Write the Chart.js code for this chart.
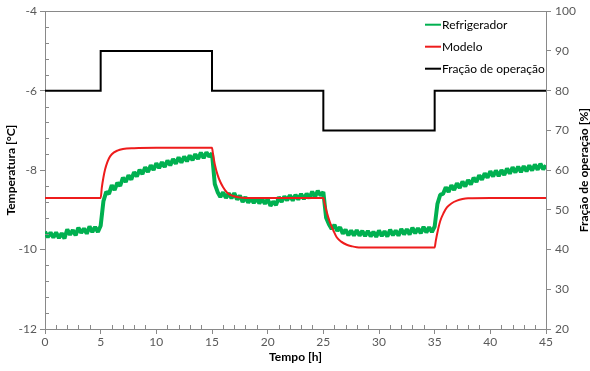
<!DOCTYPE html>
<html>
<head>
<meta charset="utf-8">
<title>Refrigerador x Modelo</title>
<script src="https://cdn.jsdelivr.net/npm/chart.js@4.4.1/dist/chart.umd.min.js"></script>
<style>
  body { margin: 0; background: #fff; }
</style>
</head>
<body>
<canvas id="grafico" width="590" height="371"></canvas>
<script>
// Temperatura medida no refrigerador (uma amostra a cada 15 min, de 0 a 45 h)
const passoRefrig = 0.25;
const tempRefrig = [
  -9.55, -9.69, -9.57, -9.70,  -9.57, -9.71, -9.59, -9.72,  -9.49, -9.63, -9.51, -9.64,
  -9.45, -9.58, -9.47, -9.60,  -9.42, -9.56, -9.43, -9.56,  -9.40, -8.78, -8.55, -8.60,
  -8.38, -8.50, -8.32, -8.40,  -8.19, -8.30, -8.13, -8.24,  -8.05, -8.16, -7.99, -8.10,
  -7.93, -8.05, -7.88, -8.00,  -7.83, -7.95, -7.80, -7.92,  -7.76, -7.88, -7.72, -7.84,
  -7.68, -7.81, -7.66, -7.78,  -7.63, -7.75, -7.60, -7.72,  -7.56, -7.70, -7.55, -7.66,
  -7.58, -8.35, -8.55, -8.68,  -8.56, -8.70, -8.58, -8.71,  -8.58, -8.74, -8.64, -8.80,
  -8.68, -8.82, -8.70, -8.83,  -8.70, -8.84, -8.72, -8.85,  -8.73, -8.90, -8.79, -8.88,
  -8.68, -8.80, -8.66, -8.76,  -8.63, -8.77, -8.62, -8.74,  -8.60, -8.73, -8.59, -8.71,
  -8.54, -8.68, -8.52, -8.64,  -8.55, -9.20, -9.36, -9.48,  -9.38, -9.53, -9.44, -9.60,
  -9.50, -9.64, -9.52, -9.65,  -9.51, -9.65, -9.53, -9.66,  -9.53, -9.67, -9.55, -9.68,
  -9.52, -9.66, -9.54, -9.67,  -9.50, -9.64, -9.52, -9.65,  -9.48, -9.62, -9.49, -9.62,
  -9.45, -9.59, -9.46, -9.59,  -9.43, -9.57, -9.44, -9.56,  -9.42, -8.85, -8.62, -8.60,
  -8.43, -8.55, -8.38, -8.50,  -8.33, -8.45, -8.29, -8.41,  -8.25, -8.36, -8.19, -8.30,
  -8.13, -8.24, -8.08, -8.19,  -8.03, -8.16, -8.01, -8.15,  -8.00, -8.12, -7.96, -8.09,
  -7.93, -8.06, -7.91, -8.05,  -7.90, -8.03, -7.88, -8.01,  -7.86, -7.99, -7.84, -7.98,
  -7.88
];

// Resposta do modelo
const tempoModelo = [0, 5, 5.1, 5.25, 5.4, 5.5, 5.75, 6, 6.5, 7, 8, 10, 15,
  15.1, 15.25, 15.5, 15.75, 16, 16.3, 16.6, 17, 17.5, 18, 20, 25,
  25.1, 25.3, 25.6, 25.9, 26.2, 26.6, 27.1, 27.6, 28, 29, 30, 35,
  35.1, 35.3, 35.5, 35.8, 36.1, 36.5, 37, 37.5, 38, 40, 45];
const tempModelo = [-8.7, -8.7, -8.45, -8.18, -7.98, -7.88, -7.7, -7.6, -7.51, -7.47, -7.45, -7.44, -7.44,
  -7.62, -7.85, -8.12, -8.3, -8.43, -8.55, -8.62, -8.66, -8.69, -8.7, -8.7, -8.7,
  -8.82, -9.05, -9.32, -9.52, -9.69, -9.8, -9.88, -9.92, -9.94, -9.95, -9.95, -9.95,
  -9.78, -9.5, -9.28, -9.08, -8.94, -8.84, -8.77, -8.73, -8.71, -8.7, -8.7];

// Fração de operação do compressor [%]
const tempoFracao = [0, 5, 15, 25, 35, 45];
const fracao = [80, 90, 80, 70, 80, 80];

const rotulos = ['Refrigerador', 'Modelo', 'Fração de operação'];

Chart.defaults.font.family = 'Lato';
Chart.defaults.font.size = 12;
Chart.defaults.color = '#595959';

const corEixo = '#898989';
const ehMaior = (v, passo) => Math.abs(v / passo - Math.round(v / passo)) < 1e-6;

// marcas secundarias, borda de cima, legenda e titulo do eixo direito
const extras = {
  id: 'extras',
  afterDraw(chart) {
    const { ctx, chartArea: a, scales } = chart;
    ctx.save();
    ctx.strokeStyle = corEixo;
    ctx.lineWidth = 1;
    ctx.beginPath();
    ctx.moveTo(a.left, Math.round(a.top) + 0.5);
    ctx.lineTo(a.right, Math.round(a.top) + 0.5);
    scales.y.ticks.forEach((t, i) => {
      if (ehMaior(t.value, 2)) return;
      const py = Math.round(scales.y.getPixelForTick(i)) + 0.5;
      ctx.moveTo(a.left, py);
      ctx.lineTo(a.left + 4, py);
    });
    scales.x.ticks.forEach((t, i) => {
      if (ehMaior(t.value, 5)) return;
      const px = Math.round(scales.x.getPixelForTick(i)) + 0.5;
      ctx.moveTo(px, a.bottom);
      ctx.lineTo(px, a.bottom - 4);
    });
    ctx.stroke();

    // legenda dentro do grafico
    ctx.font = '12px Lato';
    ctx.textAlign = 'left';
    ctx.textBaseline = 'middle';
    chart.data.datasets.forEach((ds, i) => {
      const y = a.top + 13.5 + i * 22;
      ctx.strokeStyle = ds.borderColor;
      ctx.lineWidth = 2;
      ctx.beginPath();
      ctx.moveTo(a.right - 121, y);
      ctx.lineTo(a.right - 105, y);
      ctx.stroke();
      ctx.fillStyle = '#000';
      ctx.fillText(ds.label, a.right - 104, y + 0.5);
    });

    ctx.translate(584, (a.top + a.bottom) / 2);
    ctx.rotate(-Math.PI / 2);
    ctx.font = 'bold 12px Lato';
    ctx.textAlign = 'center';
    ctx.fillStyle = '#000';
    ctx.fillText('Fração de operação [%]', 0, 0);
    ctx.restore();
  }
};

const ctx = document.getElementById('grafico').getContext('2d');
const chart = new Chart(ctx, {
  type: 'line',
  data: {
    datasets: [
      {
        label: rotulos[0],
        data: tempRefrig.map((v, i) => ({ x: i * passoRefrig, y: v })),
        yAxisID: 'y',
        borderColor: '#00b050',
        borderWidth: 4,
        borderJoinStyle: 'bevel',
        pointRadius: 0,
        order: 2
      },
      {
        label: rotulos[1],
        data: tempoModelo.map((t, i) => ({ x: t, y: tempModelo[i] })),
        yAxisID: 'y',
        borderColor: '#ee1c1c',
        borderWidth: 2,
        pointRadius: 0,
        cubicInterpolationMode: 'monotone',
        order: 1
      },
      {
        label: rotulos[2],
        data: tempoFracao.map((t, i) => ({ x: t, y: fracao[i] })),
        yAxisID: 'y1',
        borderColor: '#000000',
        borderWidth: 2,
        pointRadius: 0,
        stepped: 'before',
        order: 0
      }
    ]
  },
  options: {
    responsive: false,
    animation: false,
    layout: { padding: { top: 9 } },
    plugins: {
      legend: { display: false },
      tooltip: { enabled: false }
    },
    scales: {
      x: {
        type: 'linear',
        min: 0,
        max: 45,
        afterFit: (s) => { s.height = 42; },
        ticks: {
          stepSize: 1,
          autoSkip: false,
          maxRotation: 0,
          padding: 1,
          callback: (v) => ehMaior(v, 5) ? String(v) : ''
        },
        grid: {
          drawOnChartArea: false,
          tickLength: 5,
          tickColor: (c) => c.tick && ehMaior(c.tick.value, 5) ? corEixo : 'rgba(0,0,0,0)'
        },
        border: { color: corEixo },
        title: {
          display: true,
          text: 'Tempo [h]',
          color: '#000',
          font: { weight: 'bold', size: 12 },
          padding: { top: 0, bottom: 7 }
        }
      },
      y: {
        position: 'left',
        min: -12,
        max: -4,
        afterFit: (s) => { s.width = 45; },
        ticks: {
          stepSize: 0.4,
          autoSkip: false,
          padding: 3,
          callback: (v) => ehMaior(v, 2) ? String(Math.round(v)) : ''
        },
        grid: {
          drawOnChartArea: false,
          tickLength: 5,
          tickColor: (c) => c.tick && ehMaior(c.tick.value, 2) ? corEixo : 'rgba(0,0,0,0)'
        },
        border: { color: corEixo },
        title: {
          display: true,
          text: 'Temperatura [°C]',
          color: '#000',
          font: { weight: 'bold', size: 12 },
          padding: { top: 4, bottom: 0 }
        }
      },
      y1: {
        position: 'right',
        min: 20,
        max: 100,
        afterFit: (s) => { s.width = 44; },
        ticks: { stepSize: 10, padding: 4 },
        grid: { drawOnChartArea: false, tickLength: 5, tickColor: corEixo },
        border: { color: corEixo }
      }
    }
  },
  plugins: [extras]
});
</script>
</body>
</html>
